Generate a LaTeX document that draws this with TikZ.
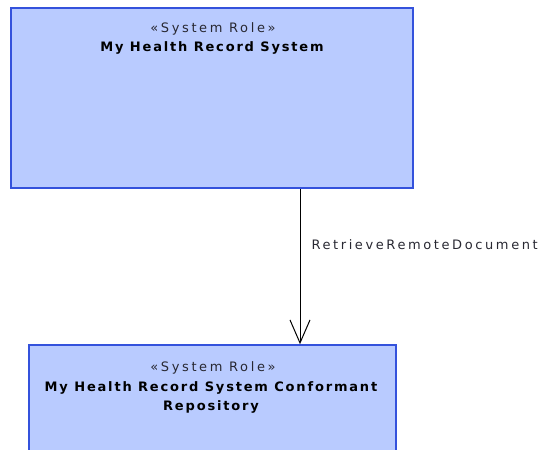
\documentclass[tikz,border=0pt]{standalone}
\usepackage{fontspec}
\usetikzlibrary{arrows.meta}
\newfontfamily\regfont[LetterSpace=20]{DejaVu Sans}
\newfontfamily\boldfont[LetterSpace=14]{DejaVu Sans Bold}
\definecolor{boxfill}{RGB}{185,203,255}
\definecolor{boxline}{RGB}{52,82,220}
\definecolor{stereo}{RGB}{40,40,50}
\tikzset{
  rolebox/.style={draw=boxline, fill=boxfill, line width=1.6pt, inner sep=0pt},
  stereotxt/.style={font=\regfont\fontsize{13}{15}\selectfont, text=stereo, inner sep=0pt},
  nametxt/.style={font=\boldfont\fontsize{13}{19.5}\selectfont, align=center, inner sep=0pt},
  msg/.style={draw=black, line width=1pt, -{Straight Barb[length=23pt,width=20pt,line width=1pt]}},
  msglabel/.style={font=\regfont\fontsize{13}{15}\selectfont, text=stereo, inner sep=0pt}
}
\begin{document}
\begin{tikzpicture}[x=1pt,y=-1pt]
\useasboundingbox (0,0) rectangle (542,450);
\begin{scope}
\clip (0,0) rectangle (542,450);
\node[rolebox, minimum width=402pt, minimum height=180pt] (top) at (212,98) {};
\node[rolebox, minimum width=367pt, minimum height=130pt] (bot) at (212.5,410) {};
\node[stereotxt] (topst) at (213,29) {«System Role»};
\node[nametxt] (topname) at (212,47.5) {My Health Record System};
\node[stereotxt] (botst) at (213,367.5) {«System Role»};
\node[nametxt] (botname) at (211,397.3) {My Health Record System Conformant\\Repository};
\coordinate (ax) at (300,0);
\draw[msg] (top.south -| ax) -- node[msglabel, pos=0.36, anchor=west, xshift=11pt] (lbl) {RetrieveRemoteDocument} (bot.north -| ax);
\end{scope}
\end{tikzpicture}
\end{document}
